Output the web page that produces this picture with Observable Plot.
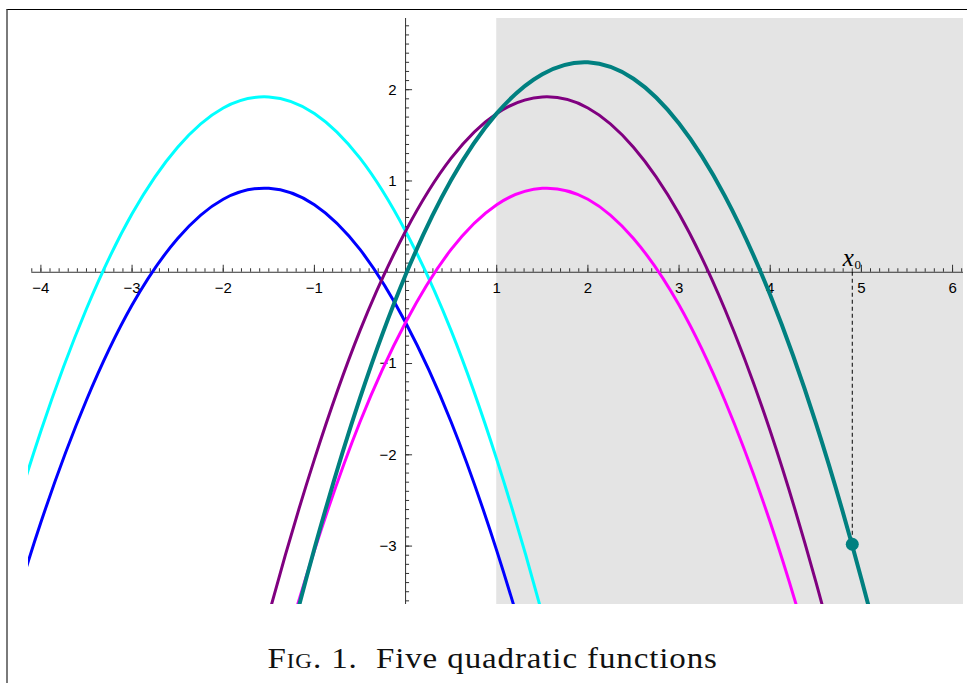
<!DOCTYPE html>
<html><head><meta charset="utf-8">
<script src="https://cdn.jsdelivr.net/npm/d3@7"></script>
<script src="https://cdn.jsdelivr.net/npm/@observablehq/plot@0.6"></script>
<style>
html,body{margin:0;padding:0;background:#fff;}
#wrap{position:relative;width:967px;height:683px;overflow:hidden;}
#frame{position:absolute;left:6px;top:9px;right:0;bottom:0;border-top:1.5px solid #000;border-left:2px solid #7a7a7a;pointer-events:none;}
#chart svg{display:block;}
#caption{font-family:"Liberation Serif",serif;font-size:30px;line-height:30px;text-align:center;padding-top:23px;padding-left:19px;color:#111;white-space:nowrap;}
#caption span.t{display:inline-block;transform:scaleX(1.1);transform-origin:center;letter-spacing:0.8px;}
.sc{font-variant:small-caps;}
</style></head>
<body><div id="wrap"><div id="chart"></div><div id="caption"><span class="t"><span class="sc">Fig</span>. 1.&nbsp; Five quadratic functions</span></div><div id="frame"></div></div>
<script>
// sample positions (x) and values for each curve
const xs      = [-5, -4.5, -4, -3.5, -3, -2.5, -2, -1.5, -1, -0.5, 0, 0.5, 1, 1.5, 2, 2.5, 3, 3.5, 4, 4.5, 5, 5.5, 6];
const cyanY   = [-5.34, -3.39, -1.74, -0.40, 0.64, 1.37, 1.80, 1.92, 1.74, 1.25, 0.45, -0.64, -2.05, -3.75, -5.77, null, null, null, null, null, null, null, null];
const blueY   = [-6.34, -4.39, -2.74, -1.40, -0.36, 0.37, 0.80, 0.92, 0.74, 0.25, -0.55, -1.64, -3.05, -4.75, -6.77, null, null, null, null, null, null, null, null];
const purpleY = [null, null, null, null, null, null, -5.77, -3.75, -2.05, -0.64, 0.45, 1.25, 1.74, 1.92, 1.80, 1.37, 0.64, -0.40, -1.74, -3.39, -5.34, -7.60, null];
const magentaY= [null, null, null, null, null, null, -6.77, -4.75, -3.05, -1.64, -0.55, 0.25, 0.74, 0.92, 0.80, 0.37, -0.36, -1.40, -2.74, -4.39, -6.34, null, null];
const tealY   = [null, null, null, null, null, null, -7.24, -4.98, -3.03, -1.38, -0.03, 1.01, 1.74, 2.17, 2.30, 2.12, 1.63, 0.84, -0.25, -1.65, -3.36, -5.37, -7.68];

const seriesNames  = ["blue", "cyan", "magenta", "purple", "teal"];
const seriesValues = [blueY, cyanY, magentaY, purpleY, tealY];
const seriesColors = ["#0000ff", "#00ffff", "#ff00ff", "#800080", "#008080"];
const seriesWidths = [3, 3, 3, 3, 4];

const xDomain = [-4.136, 6.12];
const yDomain = [-3.64, 2.78];
const shadeFrom = 1;
const x0 = 4.9;
const x0Value = -2.98;

const xMajor = [-4, -3, -2, -1, 1, 2, 3, 4, 5, 6];
const xTickLabels = ["\u22124", "\u22123", "\u22122", "\u22121", "1", "2", "3", "4", "5", "6"];
const yMajor = [2, 1, -1, -2, -3];
const yTickLabels = ["2", "1", "\u22121", "\u22122", "\u22123"];
const xMinor = d3.range(-41, 62).map(i => i / 10);
const yMinor = d3.range(-36, 28).map(i => i / 10);

const axisColor = "#333";
const curve = d3.curveCardinal.tension(0);

const lines = seriesNames.map((name, k) =>
  Plot.line(
    xs.map((x, i) => ({x, y: seriesValues[k][i]})).filter(d => d.y != null),
    {x: "x", y: "y", stroke: seriesColors[k], strokeWidth: seriesWidths[k], curve, clip: true}
  )
);

const chart = Plot.plot({
  width: 967,
  height: 620,
  marginLeft: 28,
  marginRight: 4,
  marginTop: 18,
  marginBottom: 16,
  x: {domain: xDomain, axis: null},
  y: {domain: yDomain, axis: null},
  style: {background: "transparent", fontFamily: "'Liberation Sans', Arial, sans-serif", fontSize: "15px", overflow: "visible"},
  marks: [
    Plot.rect([0], {x1: shadeFrom, x2: xDomain[1], y1: yDomain[0], y2: yDomain[1], fill: "#e4e4e4"}),
    // axes
    Plot.ruleY([0], {x1: -4.1, x2: xDomain[1], stroke: axisColor, strokeWidth: 1}),
    Plot.ruleX([0], {stroke: axisColor, strokeWidth: 1}),
    Plot.ruleX(xMinor, {x: d => d, y1: 0, y2: 0, insetTop: -3.5, stroke: axisColor, strokeWidth: 1}),
    Plot.ruleX(xMajor, {x: d => d, y1: 0, y2: 0, insetTop: -7, stroke: axisColor, strokeWidth: 1}),
    Plot.ruleY(yMinor, {y: d => d, x1: 0, x2: 0, insetRight: -4, stroke: axisColor, strokeWidth: 1}),
    Plot.ruleY(yMajor, {y: d => d, x1: 0, x2: 0, insetRight: -7, stroke: axisColor, strokeWidth: 1}),
    Plot.text(xMajor, {x: d => d, y: 0, text: (d, i) => xTickLabels[i], dy: 16, fontSize: 15, fill: "#000", textAnchor: "middle", lineAnchor: "middle"}),
    Plot.text(yMajor, {x: 0, y: d => d, text: (d, i) => yTickLabels[i], dx: -9, fontSize: 15, fill: "#000", textAnchor: "end", lineAnchor: "middle"}),
    ...lines,
    Plot.ruleX([x0], {x: d => d, y1: 0, y2: x0Value, stroke: "#000", strokeWidth: 1, strokeDasharray: "4,3"}),
    Plot.dot([x0], {x: d => d, y: x0Value, r: 6.5, fill: "#008080", stroke: "none"}),
    Plot.text([x0], {x: d => d, y: 0, text: () => "x", fontStyle: "italic", fontFamily: "'Liberation Serif', serif", fontSize: 25, dx: -4, dy: -14, fill: "#000"}),
    Plot.text([x0], {x: d => d, y: 0, text: () => "0", fontFamily: "'Liberation Serif', serif", fontSize: 13, dx: 5.5, dy: -7.5, fill: "#000"})
  ]
});
document.getElementById("chart").appendChild(chart);
</script></body></html>
